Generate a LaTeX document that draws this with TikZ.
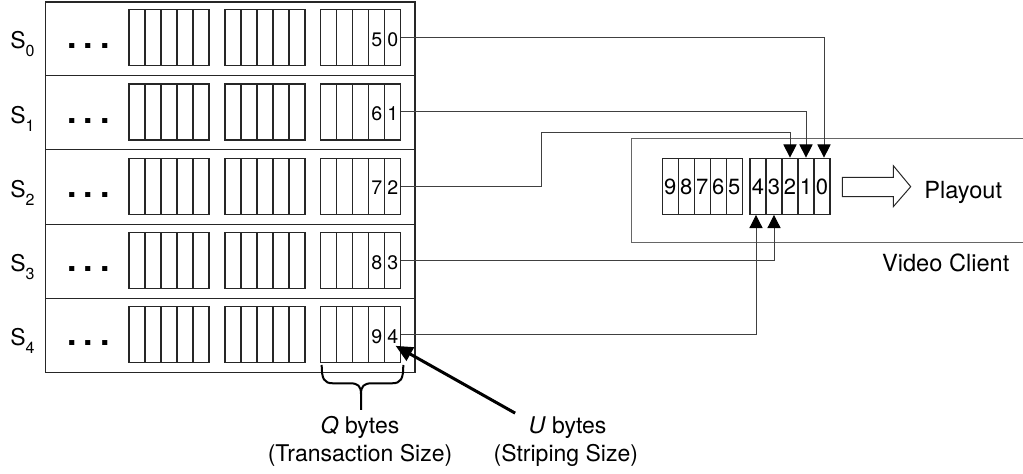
\documentclass[tikz,border=0pt]{standalone}
\usepackage{fontspec}
\setmainfont{TeX Gyre Heros}
\usetikzlibrary{arrows.meta,positioning,calc}
\definecolor{rule}{gray}{0.15}
\definecolor{wire}{gray}{0.25}
\newcommand\srvidx[1]{\raisebox{-4pt}{\fontsize{8}{8}\selectfont#1}}

\begin{document}
\begin{tikzpicture}[x=0.5pt,y=-0.5pt,
  cell/.style={draw=rule,line width=0.65pt},
  blk/.style={cell,inner sep=0pt,minimum width=40pt,minimum height=28pt},
  buf/.style={cell,inner sep=0pt,minimum width=8pt,minimum height=28pt},
  link/.style={draw=wire,line width=0.5pt},
  tip/.style={-{Triangle[width=6.6pt,length=6.6pt,color=black]}},
  lbl/.style={font=\fontsize{11.5}{13}\selectfont,inner sep=0pt},
  dig/.style={font=\fontsize{9.8}{10}\selectfont,inner sep=0pt,anchor=base},
  bufdig/.style={font=\fontsize{11}{11}\selectfont,inner sep=0pt,anchor=base}]
\useasboundingbox (0,0) rectangle (1023,474);

% storage servers
\draw[draw=rule,line width=0.6pt] (45.7,2) rectangle (415,372.7);
\foreach \y in {75.7,150,224.3,298.8} \draw[draw=rule,line width=0.5pt] (45.7,\y)--(415,\y);
\foreach \r/\hi/\lo in {0/5/0,1/6/1,2/7/2,3/8/3,4/9/4}{
  \pgfmathsetmacro\yc{37.7+74.25*\r}
  \node[lbl,anchor=base west] (srv\r) at (10,\yc+11.3) {S\srvidx{\r}};
  \node[font=\fontsize{17}{17}\selectfont\bfseries,inner sep=0pt,anchor=base] (dots\r) at (88.5,\yc+11.3) {.\hspace{3.5pt}.\hspace{3.5pt}.};
  \foreach \bx/\bn in {129/a,225/b,320.7/q}{
    \node[blk] (\bn\r) at (\bx+40,\yc) {};
    \foreach \i in {1,...,4} \draw[cell] (\bx+16*\i,\yc-28)--(\bx+16*\i,\yc+28);
  }
  \node[dig] (hi\r) at (376.7,\yc+8.7) {\hi};
  \node[dig] (lo\r) at (392.7,\yc+8.7) {\lo};
}

% video client
\draw[draw=black!60,line width=0.5pt] (1023,138.3)--(631.7,138.3)--(631.7,242.7)--(1023,242.7);
\foreach \k [count=\j from 0] in {9,8,7,6,5}{
  \node[buf] (c\k) at (670.3+16*\j,186.3) {};
  \node[bufdig] at (670.3+16*\j,195) {\k};
}
\foreach \k [count=\j from 0] in {4,3,2,1,0}{
  \node[buf] (c\k) at (758+16*\j,186.3) {};
  \node[bufdig] at (758+16*\j,195) {\k};
}
\draw[draw=rule,line width=0.5pt] (842.3,177.3)--(893.3,177.3)--(893.3,165.7)--(910.7,186.7)
  --(893.3,206.7)--(893.3,196.7)--(842.3,196.7)--cycle;
\node[lbl,font=\fontsize{11.8}{13}\selectfont,anchor=base west] (play) at (924,198.3) {Playout};
\node[lbl,font=\fontsize{11.8}{13}\selectfont,anchor=base west] (client) at (881.7,271.7) {Video Client};

% stripes to the client
\draw[link,tip] (q0.east) -| ([xshift=1pt]c0.north);
\draw[link,tip] (q1.east) -| (c1.north);
\draw[link,tip] (q2.east) -| (541.7,132.3) -| (c2.north);
\draw[link,tip] (q3.east) -| (c3.south);
\draw[link,tip] (q4.east) -| ([xshift=-1pt]c4.south);

% sizes
\draw[line width=1pt] (321.7,365) .. controls (321.7,379) and (324,383.3) .. (333,383.3) -- (350,383.3)
  .. controls (358,383.3) and (361,386) .. (361,394) -- (361,410);
\draw[line width=1pt] (403.3,365) .. controls (403.3,379) and (401,383.3) .. (392,383.3) -- (372,383.3)
  .. controls (364,383.3) and (361,386) .. (361,394);
\node[lbl,anchor=base] (qb) at (360,433.3) {\textit{Q} bytes};
\node[lbl,anchor=base] (qs) at (360,461.7) {(Transaction Size)};
\node[lbl,anchor=base] (ub) at (567.5,433.3) {\textit{U} bytes};
\node[lbl,anchor=base] (us) at (565.8,461.7) {(Striping Size)};
\draw[line width=1.5pt,-{Triangle[width=7.5pt,length=8.5pt]}] ([shift={(-13,-3)}]ub.north west) -- ([shift={(-3,2)}]lo4.south east);
\end{tikzpicture}
\end{document}
